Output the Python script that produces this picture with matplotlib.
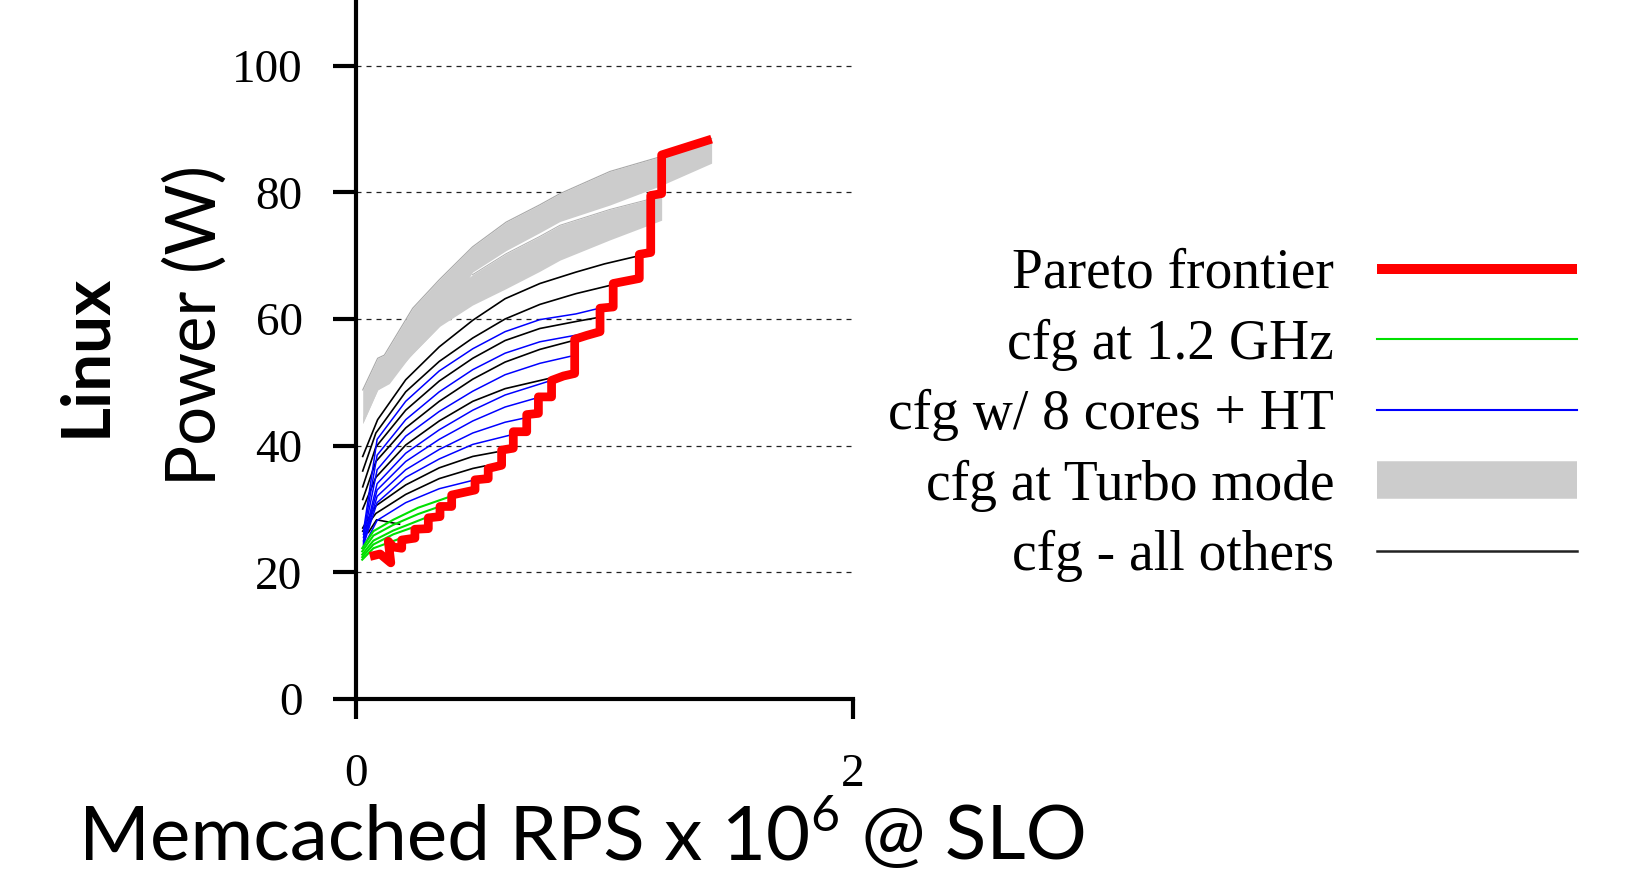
import matplotlib
matplotlib.use("Agg")
import matplotlib.pyplot as plt
from matplotlib.lines import Line2D

# ---------------- data ----------------
# Pareto frontier (x = RPS x 1e6, y = Watts)
pareto_x = [0.056, 0.097, 0.140, 0.130, 0.150, 0.184, 0.184, 0.237, 0.237, 0.291, 0.291,
            0.338, 0.338, 0.385, 0.385, 0.479, 0.479, 0.532, 0.532, 0.586, 0.586, 0.633,
            0.633, 0.687, 0.687, 0.734, 0.734, 0.787, 0.787, 0.835, 0.880, 0.880, 0.928,
            0.982, 0.982, 1.035, 1.035, 1.140, 1.140, 1.186, 1.186, 1.230, 1.230, 1.431]
pareto_y = [22.5, 22.9, 21.5, 24.9, 24.0, 23.8, 25.1, 25.4, 26.8, 26.9, 28.6,
            28.8, 30.4, 30.4, 32.2, 33.0, 34.6, 34.8, 36.4, 36.9, 39.3, 39.6,
            42.2, 42.2, 44.9, 45.1, 47.7, 47.7, 50.3, 51.0, 51.4, 56.8, 57.4,
            58.0, 61.7, 61.9, 65.6, 66.4, 70.2, 70.5, 79.5, 79.8, 85.9, 88.4]

# Turbo-mode configurations (two grey bands: top / bottom edges)
turbo_a_x = [0.027, 0.087, 0.114, 0.228, 0.335, 0.469, 0.604, 0.738, 0.821, 1.022, 1.223, 1.431]
turbo_a_top = [48.8, 53.8, 54.3, 61.7, 66.2, 71.4, 75.3, 78.0, 79.8, 83.3, 85.6, 88.5]
turbo_a_bot = [43.5, 48.8, 49.6, 54.5, 58.8, 67.4, 70.8, 73.6, 75.4, 78.0, 81.0, 84.6]
turbo_b_x = [0.027, 0.087, 0.134, 0.215, 0.335, 0.469, 0.604, 0.738, 0.821, 1.022, 1.230]
turbo_b_top = [44.5, 50.5, 52.5, 57.0, 63.0, 67.0, 70.3, 73.0, 74.8, 77.3, 79.4]
turbo_b_bot = [43.5, 48.8, 49.8, 54.0, 58.8, 62.2, 64.8, 67.5, 69.3, 72.5, 75.6]

# Configurations with 8 cores + HT (blue)
blue_x = [
    [0.03, 0.085, 0.2, 0.335, 0.47, 0.6, 0.74, 0.885, 0.969],
    [0.03, 0.085, 0.2, 0.335, 0.47, 0.6, 0.74, 0.921],
    [0.03, 0.085, 0.2, 0.335, 0.47, 0.6, 0.74, 0.862],
    [0.03, 0.085, 0.2, 0.335, 0.47, 0.6, 0.77],
    [0.03, 0.085, 0.2, 0.335, 0.47, 0.6, 0.724],
    [0.03, 0.085, 0.2, 0.335, 0.47, 0.6, 0.671],
    [0.03, 0.085, 0.2, 0.335, 0.47, 0.624],
    [0.03, 0.085, 0.2, 0.335, 0.468],
]
blue_y = [
    [26.5, 41.0, 47.0, 51.8, 55.3, 58.0, 59.9, 60.8, 61.6],
    [26.0, 38.5, 44.1, 48.5, 52.0, 54.6, 56.4, 57.7],
    [25.5, 36.2, 41.5, 45.4, 48.6, 51.2, 53.0, 54.1],
    [25.0, 34.0, 38.8, 42.5, 45.6, 48.0, 50.1],
    [24.8, 33.0, 37.5, 41.0, 43.9, 46.1, 47.5],
    [24.5, 32.0, 36.2, 39.4, 42.0, 43.7, 44.3],
    [24.3, 31.0, 35.0, 37.9, 40.2, 41.7],
    [24.0, 28.2, 31.0, 33.2, 34.5],
]

# Configurations at 1.2 GHz (green)
green_x = [
    [0.025, 0.07, 0.15, 0.25, 0.367],
    [0.025, 0.07, 0.15, 0.25, 0.323],
    [0.025, 0.07, 0.15, 0.273],
    [0.025, 0.07, 0.15, 0.222],
    [0.025, 0.07, 0.168],
]
green_y = [
    [23.8, 26.5, 28.3, 30.2, 31.8],
    [23.3, 25.8, 27.5, 29.2, 30.2],
    [22.8, 25.0, 26.6, 28.5],
    [22.4, 24.4, 26.0, 27.0],
    [22.0, 23.8, 25.2],
]

# All other configurations (black)
black_x = [
    [0.027, 0.087, 0.2, 0.335, 0.47, 0.6, 0.74, 0.885, 1.0, 1.13],
    [0.027, 0.08, 0.2, 0.335, 0.47, 0.6, 0.74, 0.885, 1.022],
    [0.027, 0.08, 0.2, 0.335, 0.47, 0.6, 0.74, 0.885, 0.969],
    [0.027, 0.08, 0.2, 0.335, 0.47, 0.6, 0.74, 0.875],
    [0.027, 0.08, 0.2, 0.335, 0.47, 0.6, 0.775],
    [0.027, 0.08, 0.2, 0.335, 0.47, 0.566],
    [0.027, 0.08, 0.2, 0.335, 0.47, 0.519],
    [0.05, 0.083, 0.175],
]
black_y = [
    [38.3, 44.1, 50.4, 55.6, 59.8, 63.2, 65.6, 67.4, 68.7, 69.9],
    [36.0, 42.0, 48.5, 53.3, 57.0, 60.0, 62.3, 64.0, 65.3],
    [33.5, 39.8, 45.6, 50.2, 53.8, 56.6, 58.5, 59.6, 60.2],
    [31.5, 37.5, 42.8, 47.0, 50.5, 53.2, 55.2, 56.6],
    [30.0, 35.0, 40.1, 43.9, 47.0, 49.0, 50.6],
    [27.0, 30.5, 33.8, 36.5, 38.3, 39.0],
    [26.5, 29.3, 32.3, 34.8, 36.4, 36.8],
    [26.3, 28.3, 27.6],
]

y_ticks = [0, 20, 40, 60, 80, 100]
x_ticks = [0, 2]
legend_labels = ["Pareto frontier", "cfg at 1.2 GHz", "cfg w/ 8 cores + HT",
                 "cfg at Turbo mode", "cfg - all others"]
xlabel_parts = ["Memcached RPS x 10", "6", " @ SLO"]

# ---------------- style ----------------
RED = '#ff0000'
GREEN = '#00e000'
BLUE = '#0000ff'
GREY = '#cccccc'
W, H = 1631, 874

fig = plt.figure(figsize=(16.31, 8.74), dpi=100)
ax = fig.add_axes([356 / W, 175 / H, 497 / W, 696.7 / H])

# turbo bands
ax.fill_between(turbo_b_x, turbo_b_bot, turbo_b_top, color=GREY, lw=0, zorder=1)
ax.fill_between(turbo_a_x, turbo_a_bot, turbo_a_top, color=GREY, lw=0, zorder=1)
ax.plot(turbo_a_x, turbo_a_top, color='#a8a8a8', lw=0.8, zorder=1.1)
ax.plot(turbo_b_x[5:], turbo_b_top[5:], color='#b0b0b0', lw=0.7, zorder=1.1)

for xs, ys in zip(black_x, black_y):
    ax.plot(xs, ys, color='black', lw=1.2, zorder=2)
for xs, ys in zip(blue_x, blue_y):
    ax.plot(xs, ys, color=BLUE, lw=1.1, zorder=2.1)
for xs, ys in zip(green_x, green_y):
    ax.plot(xs, ys, color=GREEN, lw=1.5, zorder=2.2)

ax.plot(pareto_x, pareto_y, color=RED, lw=6.3, zorder=3,
        solid_joinstyle='round', solid_capstyle='butt')

ax.set_xlim(0, 2)
ax.set_ylim(0, 110)
ax.set_xticks(x_ticks)
ax.set_yticks(y_ticks)
ax.set_xticklabels([str(v) for v in x_ticks], fontfamily='Liberation Serif', fontsize=34)
ax.set_yticklabels([str(v) for v in y_ticks], fontfamily='Liberation Serif', fontsize=34)

for s in ['top', 'right']:
    ax.spines[s].set_visible(False)
for s in ['left', 'bottom']:
    ax.spines[s].set_linewidth(3)
ax.tick_params(axis='y', direction='out', length=16.5, width=3, pad=22)
ax.tick_params(axis='x', direction='out', length=14.5, width=3, pad=25)

ax.set_axisbelow(True)
ax.yaxis.grid(True, linestyle=(0, (4, 4)), color='#222222', lw=0.9)
ax.xaxis.grid(False)

# y labels
fig.text(195 / W, 1 - 325 / H, 'Power (W)', rotation=90, ha='center', va='center',
         fontfamily='Lato', fontsize=49.5)
fig.text(86 / W, 1 - 355 / H, 'Linux', rotation=90, ha='center', va='center',
         fontfamily='Lato', fontweight='bold', fontsize=48.5)

# x label with a manual superscript
fig.canvas.draw()
renderer = fig.canvas.get_renderer()
sizes = [55, 36, 55]
rises = [0, 28, 0]
texts = [fig.text(0, 0, s, fontfamily='Lato', fontsize=fs, va='baseline', ha='left')
         for s, fs in zip(xlabel_parts, sizes)]
widths = [t.get_window_extent(renderer).width for t in texts]
center_px, base_px = 582, 859
x0 = center_px - sum(widths) / 2
for t, wpx, r in zip(texts, widths, rises):
    t.set_position((x0 / W, (H - base_px + r) / H))
    x0 += wpx + (2 if r else 0)

# legend
handles = [
    Line2D([], [], color=RED, lw=7.2, solid_capstyle='butt'),
    Line2D([], [], color=GREEN, lw=1.5),
    Line2D([], [], color=BLUE, lw=1.5),
    Line2D([], [], color=GREY, lw=27, solid_capstyle='butt'),
    Line2D([], [], color='#222222', lw=1.8),
]
fig.legend(handles, legend_labels, loc='upper right',
           bbox_to_anchor=(1577 / W, 1 - 248 / H), frameon=False,
           markerfirst=False, prop={'family': 'Liberation Serif', 'size': 40},
           handlelength=3.6, handletextpad=0.77, labelspacing=0.33,
           borderpad=0, borderaxespad=0)

fig.savefig('out.png', dpi=100)
